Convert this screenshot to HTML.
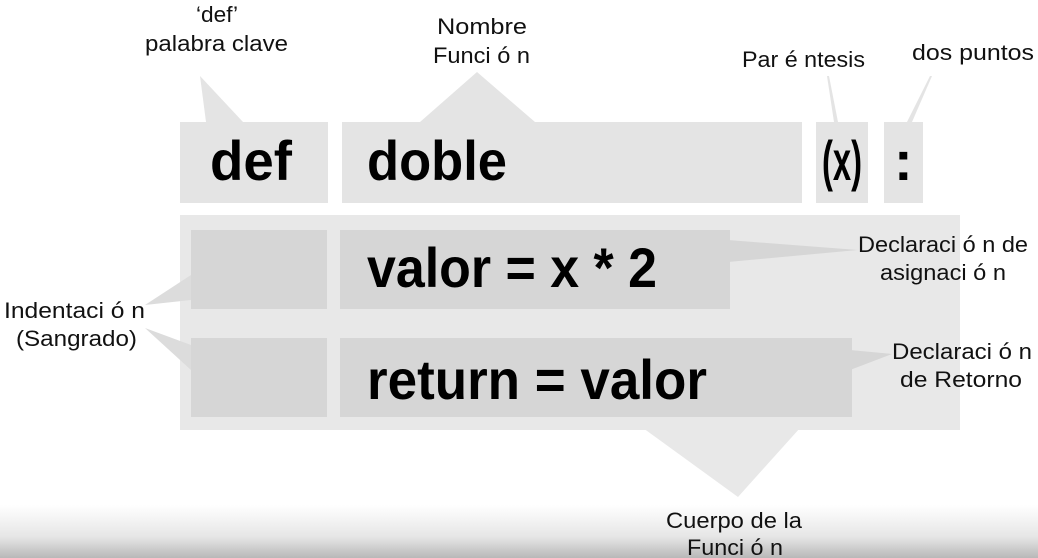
<!DOCTYPE html>
<html><head><meta charset="utf-8"><style>
html,body{margin:0;padding:0;background:#fff;}
svg{display:block;}
.l{font-family:"Liberation Sans",sans-serif;font-size:22px;fill:#111;}
.c{font-family:"Liberation Sans",sans-serif;font-weight:bold;font-size:56px;fill:#000;}
</style></head><body>
<svg width="1038" height="558" viewBox="0 0 1038 558" xmlns="http://www.w3.org/2000/svg">
<defs><linearGradient id="g" x1="0" y1="0" x2="0" y2="1"><stop offset="0" stop-color="#fff"/><stop offset="0.6" stop-color="#e6e6e6"/><stop offset="1" stop-color="#b8b8b8"/></linearGradient></defs>
<rect width="1038" height="558" fill="#fff"/>
<rect x="0" y="505" width="1038" height="53" fill="url(#g)"/>
<polygon points="200,76 206,122 243,122" fill="#e4e4e4"/>
<polygon points="477,72 420,122 535,122" fill="#e4e4e4"/>
<polygon points="827,76 829,76 838,122 834,122" fill="#e4e4e4"/>
<polygon points="930,76 932,76 912,122 907,122" fill="#e4e4e4"/>
<rect x="180" y="122" width="148" height="81" fill="#e4e4e4"/>
<rect x="342" y="122" width="460" height="81" fill="#e4e4e4"/>
<rect x="816" y="122" width="52" height="81" fill="#e4e4e4"/>
<rect x="884" y="122" width="39" height="81" fill="#e4e4e4"/>
<rect x="180" y="215" width="780" height="215" fill="#e8e8e8"/>
<polygon points="643,428 800,428 738,497" fill="#e8e8e8"/>
<polygon points="145,305 191,275 191,300" fill="#dcdcdc"/>
<polygon points="145,328 191,345 191,370" fill="#dcdcdc"/>
<rect x="191" y="230" width="136" height="79" fill="#d6d6d6"/>
<rect x="191" y="338" width="136" height="79" fill="#d6d6d6"/>
<rect x="340" y="230" width="390" height="79" fill="#d6d6d6"/>
<rect x="340" y="338" width="512" height="79" fill="#d6d6d6"/>
<polygon points="728,240 858,250 728,262" fill="#d6d6d6"/>
<polygon points="850,350 892,354 850,370" fill="#d6d6d6"/>
<text class="c" x="210" y="180" textLength="82" lengthAdjust="spacingAndGlyphs">def</text>
<text class="c" x="367" y="180" textLength="140" lengthAdjust="spacingAndGlyphs">doble</text>
<text class="c" x="822" y="180" textLength="40" lengthAdjust="spacingAndGlyphs">(x)</text>
<text class="c" x="894" y="180">:</text>
<text class="c" x="367" y="287" textLength="290" lengthAdjust="spacingAndGlyphs">valor = x * 2</text>
<text class="c" x="367" y="399" textLength="340" lengthAdjust="spacingAndGlyphs">return = valor</text>
<text class="l" x="196" y="22" textLength="42" lengthAdjust="spacingAndGlyphs">‘def’</text>
<text class="l" x="145" y="51" textLength="143" lengthAdjust="spacingAndGlyphs">palabra clave</text>
<text class="l" x="437" y="34" textLength="90" lengthAdjust="spacingAndGlyphs">Nombre</text>
<text class="l" x="433" y="63" textLength="97" lengthAdjust="spacingAndGlyphs">Funci ó n</text>
<text class="l" x="742" y="67" textLength="123" lengthAdjust="spacingAndGlyphs">Par é ntesis</text>
<text class="l" x="912" y="60" textLength="122" lengthAdjust="spacingAndGlyphs">dos puntos</text>
<text class="l" x="858" y="252" textLength="170" lengthAdjust="spacingAndGlyphs">Declaraci ó n de</text>
<text class="l" x="880" y="280" textLength="126" lengthAdjust="spacingAndGlyphs">asignaci ó n</text>
<text class="l" x="892" y="359" textLength="140" lengthAdjust="spacingAndGlyphs">Declaraci ó n</text>
<text class="l" x="900" y="387" textLength="122" lengthAdjust="spacingAndGlyphs">de Retorno</text>
<text class="l" x="4" y="318" textLength="141" lengthAdjust="spacingAndGlyphs">Indentaci ó n</text>
<text class="l" x="16" y="346" textLength="121" lengthAdjust="spacingAndGlyphs">(Sangrado)</text>
<text class="l" x="666" y="528" textLength="136" lengthAdjust="spacingAndGlyphs">Cuerpo de la</text>
<text class="l" x="687" y="555" textLength="96" lengthAdjust="spacingAndGlyphs">Funci ó n</text>
</svg>
</body></html>
